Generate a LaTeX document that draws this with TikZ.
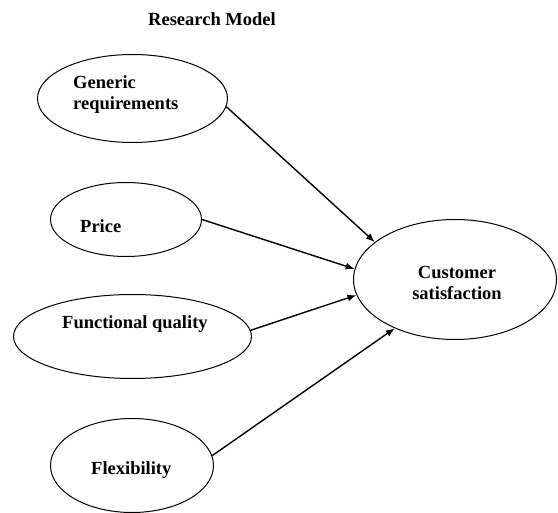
\documentclass[tikz,border=0pt]{standalone}
\usepackage{fontspec}
\setmainfont{Liberation Serif}
\usetikzlibrary{shapes.geometric,arrows.meta}
\begin{document}
\begin{tikzpicture}[x=1pt,y=-1pt,
  ell/.style={draw, ellipse, line width=1pt, inner sep=0pt},
  lbl/.style={inner sep=0pt, font=\bfseries\fontsize{18.5}{21.5}\selectfont},
  link/.style={line width=1.4pt, -{Latex[length=9pt,width=7pt]}}]
\useasboundingbox (0,0) rectangle (558,513);
\node[lbl, anchor=base] (title) at (212,26) {Research Model};
\node[ell, minimum width=190pt, minimum height=88pt] (e1) at (132.5,98.5) {};
\node[ell, minimum width=151pt, minimum height=74pt] (e2) at (126,219.5) {};
\node[ell, minimum width=238pt, minimum height=84pt] (e3) at (132.5,336.5) {};
\node[ell, minimum width=163pt, minimum height=94pt] (e4) at (132,465.5) {};
\node[ell, minimum width=203pt, minimum height=120pt] (e5) at (455,279.5) {};
\node[lbl, anchor=base west, align=left] (t1) at (73,110) {Generic\\requirements};
\node[lbl, anchor=base west] (t2) at (80,233) {Price};
\node[lbl, anchor=base west] (t3) at (62,329) {Functional quality};
\node[lbl, anchor=base west] (t4) at (91,475) {Flexibility};
\node[lbl, anchor=base, align=center] (t5) at (457,300) {Customer\\satisfaction};
\draw[link] (e1.-5) -- (e5.155);
\draw[link] (e2.0) -- (e5.174);
\draw[link] (e3.3) -- (e5.-171);
\draw[link] (e4.7) -- (e5.-141);
\end{tikzpicture}
\end{document}
